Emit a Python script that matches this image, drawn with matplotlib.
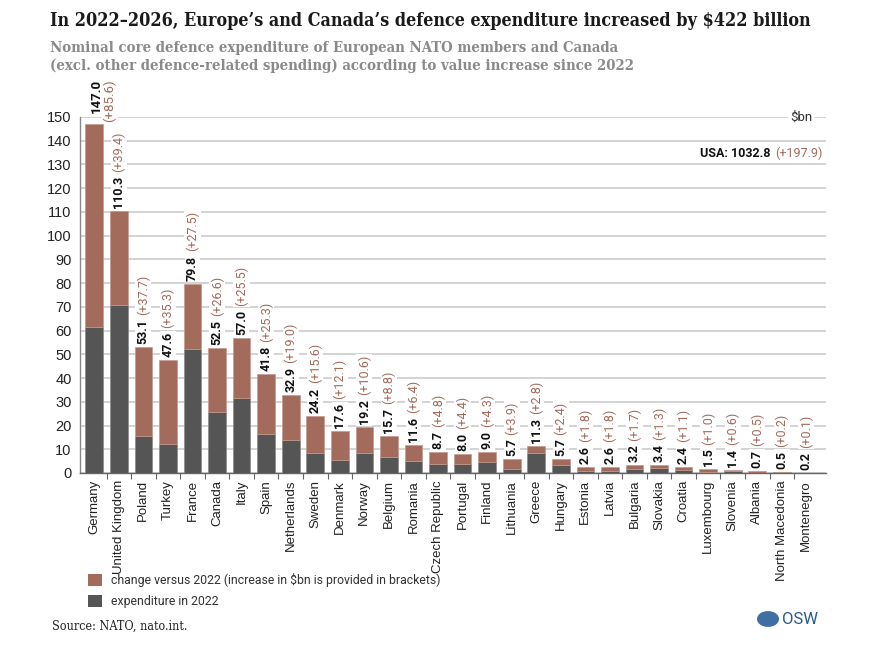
import matplotlib
matplotlib.use("Agg")
import matplotlib.pyplot as plt
from matplotlib.patches import Rectangle, Circle
from matplotlib.transforms import offset_copy

countries = ["Germany", "United Kingdom", "Poland", "Turkey", "France", "Canada", "Italy",
             "Spain", "Netherlands", "Sweden", "Denmark", "Norway", "Belgium", "Romania",
             "Czech Republic", "Portugal", "Finland", "Lithuania", "Greece", "Hungary",
             "Estonia", "Latvia", "Bulgaria", "Slovakia", "Croatia", "Luxembourg",
             "Slovenia", "Albania", "North Macedonia", "Montenegro"]
total_2026 = [147.0, 110.3, 53.1, 47.6, 79.8, 52.5, 57.0, 41.8, 32.9, 24.2, 17.6, 19.2,
              15.7, 11.6, 8.7, 8.0, 9.0, 5.7, 11.3, 5.7, 2.6, 2.6, 3.2, 3.4, 2.4, 1.5,
              1.4, 0.7, 0.5, 0.2]
change = [85.6, 39.4, 37.7, 35.3, 27.5, 26.6, 25.5, 25.3, 19.0, 15.6, 12.1, 10.6, 8.8,
          6.4, 4.8, 4.4, 4.3, 3.9, 2.8, 2.4, 1.8, 1.8, 1.7, 1.3, 1.1, 1.0, 0.6, 0.5,
          0.2, 0.1]
exp_2022 = [round(t - c, 1) for t, c in zip(total_2026, change)]
yticks = list(range(0, 151, 10))
usa_total, usa_change = 1032.8, 197.9

BROWN = "#a26b5b"
DARK = "#555555"
GRID = "#cccccc"

fig = plt.figure(figsize=(8.94, 6.46), dpi=100)
ax = fig.add_axes([80 / 894, 1 - 473 / 646, (826 - 80) / 894, (473 - 117) / 646])

x = list(range(len(countries)))
ax.bar(x, exp_2022, width=0.72, color=DARK, edgecolor="#8a8a8a", linewidth=0.5, zorder=3)
ax.bar(x, change, bottom=exp_2022, width=0.72, color=BROWN, edgecolor="#c49a8e",
       linewidth=0.5, zorder=3)

ax.set_xlim(-0.58, 29.8)
ax.set_ylim(0, 150)
ax.set_yticks(yticks)
ax.set_yticklabels([str(v) for v in yticks], family="Liberation Sans", fontsize=10.5,
                   color="#222222")
ax.tick_params(axis="y", length=0, pad=6)
ax.yaxis.grid(True, color=GRID, linewidth=1.2, zorder=0)
ax.set_axisbelow(True)

ax.set_xticks(x)
ax.set_xticklabels(countries, rotation=90, family="Liberation Sans", fontsize=9.5,
                   color="#222222")
ax.set_xticks([i + 0.5 for i in x[:-1]], minor=True)
ax.tick_params(axis="x", which="major", length=0, pad=5)
ax.tick_params(axis="x", which="minor", length=4, width=0.8, color="#666666", direction="out")

for s in ["top", "right"]:
    ax.spines[s].set_visible(False)
ax.spines["left"].set_color("#888888")
ax.spines["bottom"].set_color("#666666")
ax.spines["left"].set_linewidth(1.0)
ax.spines["bottom"].set_linewidth(1.0)

fig.canvas.draw()
renderer = fig.canvas.get_renderer()
bbox_kw = dict(facecolor="white", edgecolor="none", pad=1.0)
for i, (t, c) in enumerate(zip(total_2026, change)):
    if i == 0:
        # tallest bar: change label set beside the total label
        tr = offset_copy(ax.transData, fig=fig, x=0, y=11, units="dots")
        ax.text(i + 0.07, t, f"{t:.1f}", rotation=90, ha="center", va="bottom",
                family="Roboto", fontweight="bold", fontsize=9.5, color="#111111",
                transform=tr, bbox=bbox_kw, clip_on=False, zorder=4)
        tr2 = offset_copy(ax.transData, fig=fig, x=0, y=2, units="dots")
        ax.text(i + 0.62, t, f"(+{c:.1f})", rotation=90, ha="center", va="bottom",
                family="Roboto", fontsize=9.5, color=BROWN, transform=tr2, bbox=bbox_kw,
                clip_on=False, zorder=4)
        continue
    tr = offset_copy(ax.transData, fig=fig, x=0, y=3, units="dots")
    t1 = ax.text(i, t, f"{t:.1f}", rotation=90, ha="center", va="bottom", family="Roboto",
                 fontweight="bold", fontsize=9, color="#111111", transform=tr,
                 bbox=bbox_kw, clip_on=False, zorder=4)
    ext = t1.get_window_extent(renderer)
    tr2 = offset_copy(ax.transData, fig=fig, x=0, y=3 + ext.height + 4, units="dots")
    ax.text(i, t, f"(+{c:.1f})", rotation=90, ha="center", va="bottom", family="Roboto",
            fontsize=9, color=BROWN, transform=tr2, bbox=bbox_kw, clip_on=False, zorder=4)

# $bn unit label
ax.text(29.25, 150, "$bn", ha="right", va="center", family="Roboto", fontsize=9.5,
        color="#333333", bbox=dict(facecolor="white", edgecolor="none", pad=2), zorder=4)

# USA annotation
t_usa = ax.text(0, 0, f"(+{usa_change:.1f})", family="Roboto", fontsize=9, color=BROWN)
ext = t_usa.get_window_extent(renderer)
t_usa.remove()
ax.text(29.64, 134.5, f"(+{usa_change:.1f})", ha="right", va="center", family="Roboto",
        fontsize=9, color=BROWN, zorder=4)
tr3 = offset_copy(ax.transData, fig=fig, x=-(ext.width + 4), y=0, units="dots")
ax.text(29.64, 134.5, f"USA: {usa_total:.1f}", ha="right", va="center", family="Roboto",
        fontsize=9, fontweight="bold", color="#111111", transform=tr3, zorder=4)

# Titles
fig.text(50 / 894, 1 - 21 / 646, "In 2022\u20132026, Europe\u2019s and Canada\u2019s defence expenditure increased by $422 billion",
         family="DejaVu Serif", fontweight="bold", fontsize=12.9, color="#1a1a1a",
         ha="left", va="center", fontstretch="condensed")
fig.text(50 / 894, 1 - 57 / 646,
         "Nominal core defence expenditure of European NATO members and Canada\n(excl. other defence-related spending) according to value increase since 2022",
         family="DejaVu Serif", fontweight="bold", fontsize=10.7, color="#8a8a8a",
         ha="left", va="center", linespacing=1.35, fontstretch="condensed")

# Legend
for ypx, col, lab in [(580, BROWN, "change versus 2022 (increase in $bn is provided in brackets)"),
                      (601, DARK, "expenditure in 2022")]:
    fig.patches.append(Rectangle((88 / 894, 1 - (ypx + 6) / 646), 14 / 894, 12 / 646,
                                 transform=fig.transFigure, facecolor=col, edgecolor="none"))
    fig.text(111 / 894, 1 - ypx / 646, lab, family="Roboto", fontsize=8.8, color="#333333",
             ha="left", va="center")

fig.text(52 / 894, 1 - 626 / 646, "Source: NATO, nato.int.", family="DejaVu Serif",
         fontsize=9, color="#222222", ha="left", va="center", fontstretch="condensed")

# OSW logo
fig.patches.append(Circle((768 / 894, 1 - 619 / 646), 11 / 894, transform=fig.transFigure,
                          facecolor="#3f6fa3", edgecolor="none"))
fig.text(782 / 894, 1 - 619 / 646, "OSW", family="Roboto", fontsize=12, color="#2a5a8f",
         ha="left", va="center")

fig.savefig("out.png", dpi=100)
